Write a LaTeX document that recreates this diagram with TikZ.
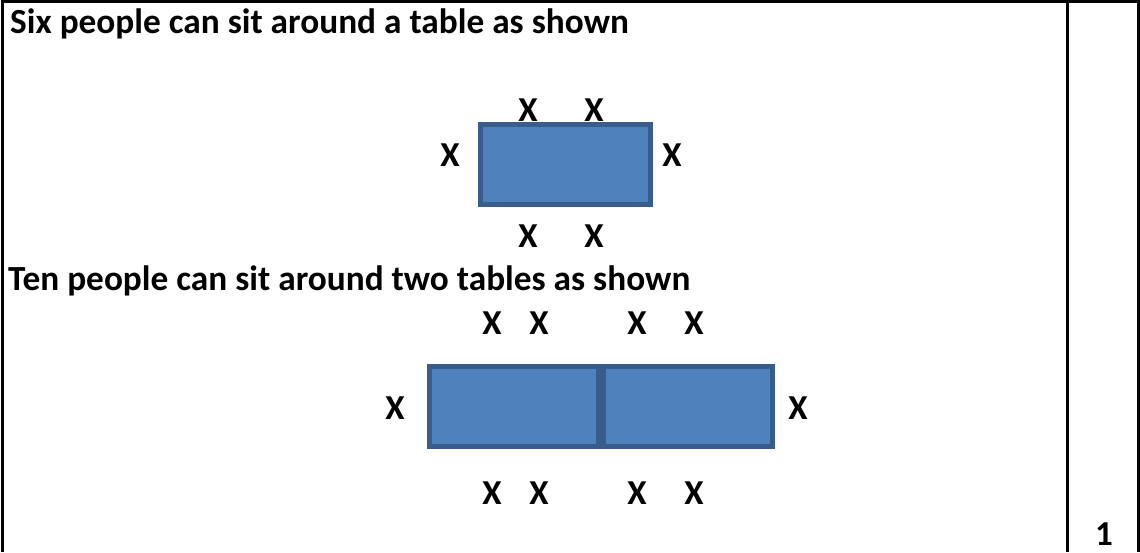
\documentclass[tikz,border=0pt]{standalone}
\usepackage{fontspec}
\setmainfont{Carlito}
\definecolor{tablefill}{HTML}{4F81BD}
\definecolor{tableedge}{HTML}{385D8A}
\begin{document}
\begin{tikzpicture}[x=1pt,y=-1pt,
  seat/.style={font=\bfseries\fontsize{35}{35}\selectfont, inner sep=0pt},
  heading/.style={font=\bfseries\fontsize{35.3}{35}\selectfont, inner sep=0pt, anchor=base west},
  tablebox/.style={draw=tableedge, fill=tablefill, line width=5pt},
  frame/.style={line width=3pt}]
\useasboundingbox (0,0) rectangle (1140,552);
% frame
\draw[frame] (2.5,552) -- (2.5,1.5) -- (1138.5,1.5) -- (1138.5,552);
\draw[frame] (1067,1.5) -- (1067,552);
% headings
\node[heading] (h1) at (10,33.5) {Six people can sit around a table as shown};
\node[heading] (h2) at (8,290) {Ten people can sit around two tables as shown};
% table 1
\node[tablebox, minimum width=170pt, minimum height=80pt, inner sep=0pt] (t1) at (565.5,164.5) {};
\node[seat] (a1) at (528,110) {X};
\node[seat] (a2) at (594,110) {X};
\node[seat] (a3) at (450,155) {X};
\node[seat] (a4) at (672,155) {X};
\node[seat] (a5) at (528,236) {X};
\node[seat] (a6) at (594,236) {X};
% tables 2
\node[tablebox, minimum width=169pt, minimum height=80pt, inner sep=0pt] (t2) at (514,406.5) {};
\node[tablebox, minimum width=169pt, minimum height=80pt, inner sep=0pt] (t3) at (688,406.5) {};
\node[seat] (b1) at (492,323) {X};
\node[seat] (b2) at (539,323) {X};
\node[seat] (b3) at (637,323) {X};
\node[seat] (b4) at (694,323) {X};
\node[seat] (b5) at (395,408) {X};
\node[seat] (b6) at (798,408) {X};
\node[seat] (b7) at (492,493) {X};
\node[seat] (b8) at (539,493) {X};
\node[seat] (b9) at (637,493) {X};
\node[seat] (b10) at (694,493) {X};
% mark
\node[seat] (m) at (1104,534) {1};
\end{tikzpicture}
\end{document}
